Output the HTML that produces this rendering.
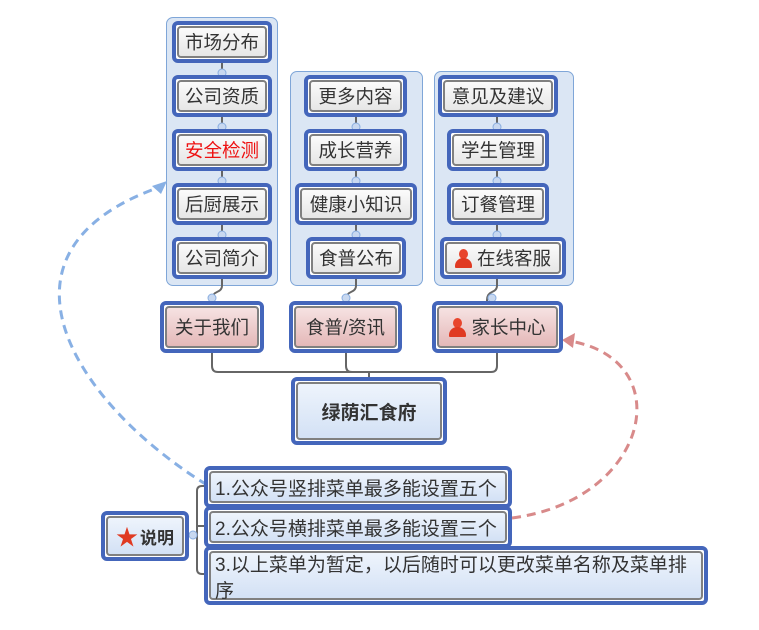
<!DOCTYPE html>
<html><head><meta charset="utf-8"><style>
body{margin:0;width:759px;height:630px;background:#fff;position:relative;overflow:hidden;font-family:"Liberation Sans","Noto Sans CJK SC",sans-serif;}
.p{position:absolute;background:#dbe6f4;border:1px solid #7fa6d8;border-radius:7px;}
.n{position:absolute;box-sizing:border-box;border:4px solid #4466bb;border-radius:6px;background:#fff;}
.n>div{position:absolute;left:1px;top:1px;right:1px;bottom:1px;border:2px solid #808080;border-radius:4px;background:linear-gradient(#fbfbfb,#e6e6e6);display:flex;align-items:center;justify-content:center;font-size:18.5px;color:#333;white-space:nowrap;}
.r>div{background:linear-gradient(#f6e2e2,#e4b8b8);}
.b>div{background:linear-gradient(#eef4fc,#d3e1f5);}
.t>div{justify-content:flex-start;padding-left:4px;font-size:19px;}
.ic{display:inline-block;width:17px;height:19px;margin-right:5px;position:relative;}
.ic:before{content:"";position:absolute;left:4px;top:0;width:9px;height:10px;border-radius:50%;background:#e8452c;}
.ic:after{content:"";position:absolute;left:0;top:9px;width:17px;height:10px;border-radius:8px 8px 1px 1px;background:#e03a22;}
</style></head><body>
<div class="p" style="left:166px;top:17px;width:110px;height:267px"></div>
<div class="p" style="left:290px;top:71px;width:131px;height:213px"></div>
<div class="p" style="left:434px;top:71px;width:138px;height:213px"></div>
<svg width="759" height="630" style="position:absolute;left:0;top:0">
<g stroke="#666" stroke-width="2" fill="none">
<line x1="222" y1="60" x2="222" y2="240"/>
<line x1="356" y1="114" x2="356" y2="240"/>
<line x1="497" y1="114" x2="497" y2="240"/>
<path d="M222,278 v8 q0,4 -5,6 t-5,8 v4"/>
<path d="M356,278 v8 q0,4 -5,6 t-5,8 v4"/>
<path d="M497,278 v8 q0,4 -5,6 t-5,8 v4"/>
<path d="M212,350 v16 q0,6 6,6 h273 q6,0 6,-6 v-16"/>
<path d="M346,350 v16 q0,6 6,6"/>
<line x1="369" y1="372" x2="369" y2="380"/>
<path d="M206,486 h-4 q-5,0 -5,5 v78 q0,5 5,5 h4"/>
<line x1="197" y1="526" x2="206" y2="526"/>
<line x1="189" y1="535" x2="197" y2="535"/>
</g>
<g fill="#c8d8f0" stroke="#8aaee0" stroke-width="1">
<circle cx="222" cy="73" r="4"/><circle cx="222" cy="127" r="4"/><circle cx="222" cy="181" r="4"/><circle cx="222" cy="235" r="4"/>
<circle cx="356" cy="127" r="4"/><circle cx="356" cy="181" r="4"/><circle cx="356" cy="235" r="4"/>
<circle cx="497" cy="127" r="4"/><circle cx="497" cy="181" r="4"/><circle cx="497" cy="235" r="4"/>
<circle cx="212" cy="298" r="4"/><circle cx="346" cy="298" r="4"/><circle cx="492" cy="298" r="4"/>
<circle cx="193" cy="535" r="4"/>
</g>
<path d="M207,485 C70,400 -20,250 160,187" stroke="#88b0e4" stroke-width="3" stroke-dasharray="9,6" fill="none"/>
<polygon points="167,181 152,186 161,194" fill="#88b0e4"/>
<path d="M512,518 C650,500 680,360 570,341" stroke="#d88a8a" stroke-width="3" stroke-dasharray="9,6" fill="none"/>
<polygon points="562,340 575,333 573,348" fill="#d88a8a"/>
</svg>
<div class="n" style="left:172px;top:21px;width:100px;height:42px"><div>市场分布</div></div>
<div class="n" style="left:172px;top:75px;width:100px;height:42px"><div>公司资质</div></div>
<div class="n" style="left:172px;top:129px;width:100px;height:42px"><div style="color:#ee1111">安全检测</div></div>
<div class="n" style="left:172px;top:183px;width:100px;height:42px"><div>后厨展示</div></div>
<div class="n" style="left:172px;top:237px;width:100px;height:42px"><div>公司简介</div></div>
<div class="n" style="left:304px;top:75px;width:103px;height:42px"><div>更多内容</div></div>
<div class="n" style="left:304px;top:129px;width:103px;height:42px"><div>成长营养</div></div>
<div class="n" style="left:295px;top:183px;width:122px;height:42px"><div>健康小知识</div></div>
<div class="n" style="left:306px;top:237px;width:100px;height:42px"><div>食普公布</div></div>
<div class="n" style="left:438px;top:75px;width:120px;height:42px"><div>意见及建议</div></div>
<div class="n" style="left:447px;top:129px;width:102px;height:42px"><div>学生管理</div></div>
<div class="n" style="left:447px;top:183px;width:102px;height:42px"><div>订餐管理</div></div>
<div class="n" style="left:440px;top:237px;width:126px;height:42px"><div><span class="ic"></span>在线客服</div></div>
<div class="n r" style="left:160px;top:301px;width:104px;height:52px"><div>关于我们</div></div>
<div class="n r" style="left:289px;top:301px;width:113px;height:52px"><div>食普/资讯</div></div>
<div class="n r" style="left:432px;top:301px;width:131px;height:52px"><div><span class="ic"></span>家长中心</div></div>
<div class="n b" style="left:291px;top:377px;width:156px;height:68px"><div style="font-weight:bold;font-size:19px">绿荫汇食府</div></div>
<div class="n b" style="left:101px;top:511px;width:88px;height:50px"><div style="font-weight:bold;font-size:17px"><span style="color:#e03a22;font-size:22px;margin-right:2px">★</span>说明</div></div>
<div class="n b t" style="left:204px;top:466px;width:308px;height:42px"><div>1.公众号竖排菜单最多能设置五个</div></div>
<div class="n b t" style="left:204px;top:506px;width:308px;height:42px"><div>2.公众号横排菜单最多能设置三个</div></div>
<div class="n b t" style="left:204px;top:546px;width:504px;height:59px"><div style="line-height:26px;display:block;padding-top:0px">3.以上菜单为暂定，以后随时可以更改菜单名称及菜单排<br>序</div></div>
</body></html>
